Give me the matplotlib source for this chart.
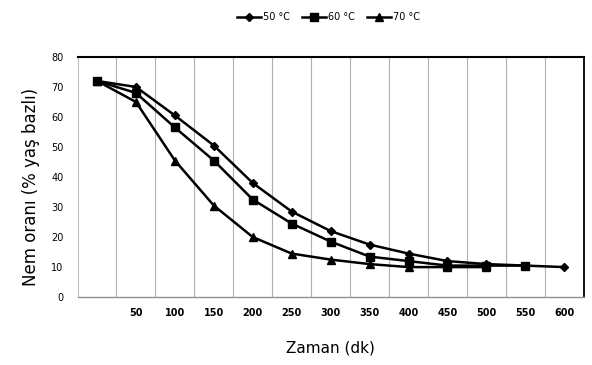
import matplotlib.pyplot as plt
import numpy as np

# zaman kategorileri (dk)
zaman = ['', '50', '100', '150', '200', '250', '300', '350', '400', '450', '500', '550', '600']

nem_50 = [72, 70, 60.5, 50.5, 38, 28.5, 22, 17.5, 14.5, 12, 11, 10.5, 10]
nem_60 = [72, 68, 56.5, 45.5, 32.5, 24.5, 18.5, 13.5, 12, 10.5, 10.5, 10.5]
nem_70 = [72, 65, 45.5, 30.5, 20, 14.5, 12.5, 11, 10, 10, 10]

fig = plt.figure(figsize=(5.92, 3.65), dpi=100)
ax = fig.add_axes([0.131, 0.186, 0.855, 0.658])

x = np.arange(len(zaman))
ax.plot(x[:len(nem_50)], nem_50, color='black', lw=1.8, marker='D', ms=4.5, label='50 °C')
ax.plot(x[:len(nem_60)], nem_60, color='black', lw=1.8, marker='s', ms=5.5, label='60 °C')
ax.plot(x[:len(nem_70)], nem_70, color='black', lw=1.8, marker='^', ms=6, label='70 °C')

ax.set_xlim(-0.5, len(zaman) - 0.5)
ax.set_ylim(0, 80)
ax.set_yticks(range(0, 81, 10))
ax.set_xticks(x)
ax.set_xticklabels(zaman, fontsize=7, fontweight='bold')
for t in ax.get_yticklabels():
    t.set_fontsize(7)
ax.tick_params(axis='both', length=0, pad=8)
ax.tick_params(axis='y', pad=10)

# dikey kilavuz cizgileri (kategori sinirlari)
for b in np.arange(0.5, len(zaman) - 0.5, 1):
    ax.axvline(b, color='#b0b0b0', lw=0.8, zorder=0)

ax.spines['top'].set_color('black')
ax.spines['top'].set_linewidth(1.5)
ax.spines['right'].set_color('black')
ax.spines['right'].set_linewidth(1.3)
ax.spines['left'].set_color('#c0c0c0')
ax.spines['left'].set_linewidth(0.8)
ax.spines['bottom'].set_color('#909090')
ax.spines['bottom'].set_linewidth(1.0)

ax.set_xlabel('Zaman (dk)', fontsize=11, labelpad=16)
ax.set_ylabel('Nem oranı (% yaş bazlı)', fontsize=12)
ax.yaxis.set_label_coords(-0.074, 0.458)

fig.legend(loc='upper center', bbox_to_anchor=(0.555, 0.99), ncol=3, frameon=False,
           fontsize=7, handlelength=2.5, columnspacing=1.2, handletextpad=0.2)

fig.savefig('out.png', dpi=100)
